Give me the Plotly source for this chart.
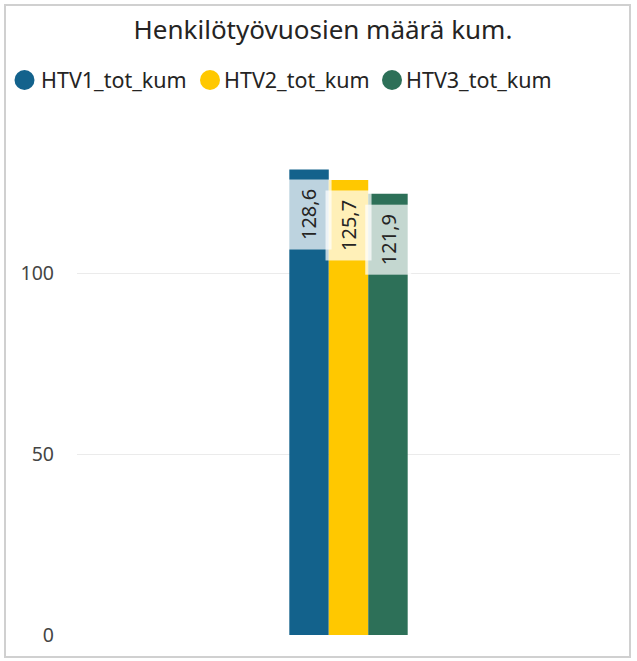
import plotly.graph_objects as go

category = ["Yhteensä"]
series_names = ["HTV1_tot_kum", "HTV2_tot_kum", "HTV3_tot_kum"]
series_values = [128.6, 125.7, 121.9]
value_labels = ["128,6", "125,7", "121,9"]
colors = ["#13628C", "#FFC800", "#2D7058"]
y_ticks = [0, 50, 100]

W, H = 637, 661
ml, mr, mt, mb = 77, 17, 128, 26
pw, ph = W - ml - mr, H - mt - mb
FONT = "Segoe UI, Noto Sans, sans-serif"


def px_x(p):
    return (p - ml) / pw


def px_y(p):
    return (mt + ph - p) / ph


fig = go.Figure()
for name, v, c in zip(series_names, series_values, colors):
    fig.add_trace(go.Bar(x=category, y=[v], name=name, marker=dict(color=c, line=dict(width=0)),
                         showlegend=False, hoverinfo="name+y"))

barw = pw * (1 - 0.782) / 3
for i, (v, lab) in enumerate(zip(series_values, value_labels)):
    fig.add_annotation(x=category[0], y=v, xref="x", yref="y", text=lab, textangle=-90,
                       showarrow=False, yanchor="top", yshift=-10, xshift=(i - 1) * barw,
                       font=dict(size=20, color="#252423", family=FONT),
                       bgcolor="rgba(255,255,255,0.72)", borderpad=9)

# legend (circle + label), positioned in pixels
legend_circle_px = [24.5, 210, 392]
legend_text_px = [39, 222, 404]
legend_y_px = 80
for name, c, cx, tx in zip(series_names, colors, legend_circle_px, legend_text_px):
    fig.add_shape(type="circle", xref="paper", yref="paper",
                  xsizemode="pixel", ysizemode="pixel",
                  xanchor=px_x(cx), yanchor=px_y(legend_y_px),
                  x0=-10, x1=10, y0=-10, y1=10,
                  fillcolor=c, line=dict(width=0))
    fig.add_annotation(x=px_x(tx), y=px_y(legend_y_px), xref="paper", yref="paper",
                       text=name, showarrow=False, xanchor="left", yanchor="middle",
                       font=dict(size=21.5, color="#252423", family=FONT))

# outer frame
fig.add_shape(type="rect", xref="paper", yref="paper",
              x0=px_x(5), x1=px_x(630), y0=px_y(657), y1=px_y(5),
              line=dict(color="#D0D0D0", width=2), layer="below")

fig.update_layout(
    width=W, height=H,
    margin=dict(l=ml, r=mr, t=mt, b=mb),
    paper_bgcolor="white", plot_bgcolor="white",
    barmode="group", bargap=0.782, bargroupgap=0,
    showlegend=False,
    font=dict(family=FONT, color="#252423"),
    title=dict(text="Henkilötyövuosien määrä kum.", x=323 / W, xref="container", xanchor="center",
               y=1 - 30 / H, yref="container", yanchor="middle",
               font=dict(size=26, color="#252423")),
    xaxis=dict(showticklabels=False, showgrid=False, zeroline=False, showline=False, ticks="",
               automargin=False),
    yaxis=dict(range=[0, ph / 3.62], tickvals=y_ticks, ticktext=[str(t) for t in y_ticks],
               showgrid=True, gridcolor="#EBEBEB", gridwidth=1, zeroline=False, showline=False,
               tickfont=dict(size=19.5, color="#444444"), ticklabelstandoff=22,
               automargin=False),
)

fig.write_html("out.html", config={"displayModeBar": False},
               post_script="document.body.style.margin='0px';")
